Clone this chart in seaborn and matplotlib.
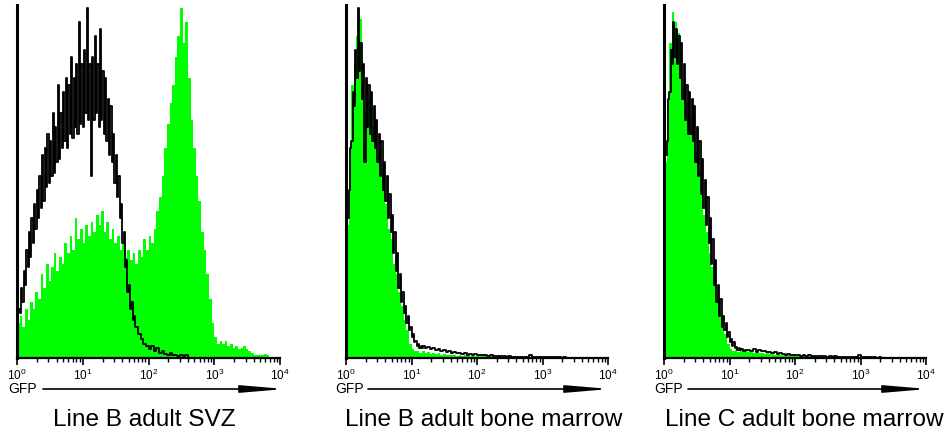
import numpy as np
import pandas as pd
import matplotlib
matplotlib.use("Agg")
import matplotlib.pyplot as plt
import seaborn as sns

# ---------------- data: % of panel max --------------------------------------------------------------
# GFP (green) histograms: 25 channels per decade, 10^0..10^4
n_bins = 100

svz_gfp = [10, 12, 9, 14, 11, 16, 14, 19, 17, 24,
           20, 27, 22, 26, 30, 25, 29, 27, 33, 30,
           35, 31, 40, 34, 37, 33, 38, 35, 39, 36,
           41, 38, 42, 36, 39, 34, 37, 33, 35, 31,
           33, 29, 31, 28, 30, 27, 31, 29, 34, 31,
           35, 33, 37, 42, 46, 52, 60, 67, 73, 78,
           86, 92, 100, 90, 96, 80, 68, 60, 52, 45,
           36, 31, 24, 17, 10, 6, 4, 5, 4, 5,
           3.5, 4, 3, 3.5, 2.5, 3, 3.5, 2.5, 2, 1.5,
           1, 1, 1, 1, 1.2, 0.8, 0.4, 0, 0, 0]

bmB_gfp = [38, 55, 78, 84, 92, 97, 80, 71, 74, 67,
           66, 61, 58, 54, 48, 44, 37, 34, 27, 24,
           19, 15, 11, 8, 4, 2.5, 2, 2, 1.5, 2,
           1.5, 1.8, 1.2, 1.5, 1.2, 1.4, 1, 1.2, 1, 1,
           0.8, 1, 0.7, 0.9, 0.6, 0.8, 0.5, 0.6, 0.5, 0.6,
           0.8, 1, 1.2, 0.6, 1, 0.5, 0.6, 0.4, 0.5, 0.3,
           0.4, 0.3, 0.3, 0.2, 0.3, 0.2, 0, 0, 0, 0,
           0, 0, 0, 0, 0, 0, 0, 0, 0, 0,
           0, 0, 0, 0, 0, 0, 0, 0, 0, 0,
           0, 0, 0, 0, 0, 0, 0, 0, 0, 0]

bmC_gfp = [56, 72, 90, 99, 96, 93, 85, 77, 73, 74,
           69, 64, 59, 53, 48, 41, 36, 30, 26, 21,
           17, 12, 9, 7, 4, 2.5, 2, 2.2, 1.8, 2,
           1.8, 2, 1.6, 1.8, 1.5, 1.6, 1.4, 1.5, 1.2, 1.4,
           1.2, 1.1, 1, 1.2, 0.9, 1, 0.8, 0.9, 0.7, 0.8,
           0.6, 0.7, 0.5, 0.6, 0.5, 0.5, 0.4, 0.5, 0.4, 0.3,
           0.4, 0.3, 0.3, 0.2, 0.3, 0.2, 0.2, 0.2, 0.1, 0.1,
           0, 0, 0, 0, 0, 0, 0, 0, 0, 0,
           0, 0, 0, 0, 0, 0, 0, 0, 0, 0,
           0, 0, 0, 0, 0, 0, 0, 0, 0, 0]

# Control (black outline) histograms: 50 channels/decade at low end, 25 channels/decade above
svz_ctrl_fine = [10, 14, 13, 20, 16, 25, 21, 31, 26, 36,
                 29, 40, 33, 44, 37, 48, 40, 52, 43, 58,
                 45, 60, 49, 64, 50, 62, 52, 70, 53, 66,
                 56, 78, 57, 70, 60, 76, 62, 80, 60, 78,
                 64, 86, 63, 80, 66, 84, 64, 96, 67, 84,
                 66, 88, 70, 100, 68, 84, 52, 86, 68, 92,
                 70, 84, 66, 94, 68, 82, 64, 80, 62, 74,
                 58, 72, 56, 64, 50, 58, 46, 52, 40, 44,
                 33, 36, 26, 28, 19, 21, 14, 16, 11, 12]
svz_ctrl_coarse = [9, 7, 5.5, 4, 3.5, 2.5, 3.5, 2, 3, 1.5,
                   2, 1.2, 1, 1.3, 0.8, 1, 0.7, 1, 0.6, 0.8,
                   0, 0, 0, 0, 0, 0, 0, 0, 0, 0,
                   0, 0, 0, 0, 0, 0, 0, 0, 0, 0,
                   0, 0, 0, 0, 0, 0, 0, 0, 0, 0,
                   0, 0, 0, 0, 0]

bmB_ctrl_fine = [28, 40, 48, 60, 62, 76, 72, 88, 80, 100,
                 82, 90, 74, 84, 56, 80, 66, 78, 64, 76,
                 62, 72, 60, 68, 56, 64, 52, 62, 48, 56,
                 45, 52, 40, 47, 36, 41, 30, 36, 25, 30,
                 20, 24, 16, 19, 13, 15, 10, 12, 8, 9,
                 6, 7, 4.5, 5, 3.5, 4, 3, 3.5, 3, 3.4]
bmB_ctrl_coarse = [2.8, 3.2, 2.5, 3, 2.2, 2.5, 2, 2.2, 1.8, 2,
                   1.5, 1.7, 1.3, 1.5, 1.2, 1.4, 1, 1.2, 1, 1.1,
                   0.9, 1, 0.8, 1, 0.7, 0.9, 0.6, 0.7, 0.5, 0.6,
                   0.5, 0.4, 0.5, 0.4, 0.3, 0.4, 0.3, 0.3, 0.2, 0.4,
                   1.0, 0.3, 0.2, 0.2, 0.3, 0.2, 0.2, 0.3, 0.2, 0.2,
                   0.2, 0.2, 0.1, 0.2, 0.1, 0.1, 0.1, 0.1, 0, 0,
                   0, 0, 0, 0, 0, 0, 0, 0, 0, 0]

bmC_ctrl_fine = [50, 58, 62, 74, 76, 88, 84, 96, 86, 94,
                 84, 92, 80, 90, 74, 84, 68, 78, 64, 76,
                 64, 74, 62, 72, 56, 66, 52, 62, 47, 57,
                 43, 51, 38, 46, 33, 40, 27, 34, 21, 28,
                 16, 21, 12, 17, 9, 12, 8, 10, 6, 7.5,
                 4.5, 5.5, 3.5, 4.5, 2.8, 3.2, 2.4, 2.8, 2.2, 2.6]
bmC_ctrl_coarse = [2, 2.4, 2.2, 2, 2.5, 1.8, 2.2, 1.9, 2, 1.6,
                   1.8, 1.4, 1.6, 1.2, 1.4, 1.2, 1, 1.1, 0.9, 1,
                   0.8, 1, 0.7, 0.9, 0.6, 0.8, 0.6, 0.7, 0.5, 0.6,
                   0.5, 0.6, 0.4, 0.5, 0.4, 0.5, 0.4, 0.3, 0.4, 0.3,
                   0.3, 0.4, 0.3, 0.3, 1, 0.3, 0.2, 0.3, 0.2, 0.2,
                   0.2, 0.1, 0.2, 0.1, 0.1, 0, 0, 0, 0, 0,
                   0, 0, 0, 0, 0, 0, 0, 0, 0, 0]

panel_titles = ["Line B adult SVZ", "Line B adult bone marrow", "Line C adult bone marrow"]
tick_values = [1, 10, 100, 1000, 10000]
tick_labels = [r"$10^{0}$", r"$10^{1}$", r"$10^{2}$", r"$10^{3}$", r"$10^{4}$"]
axis_label = "GFP"

# ---------------- style -------------
sns.set_style("ticks")
plt.rcParams["font.family"] = ["Liberation Sans", "DejaVu Sans"]
plt.rcParams["mathtext.fontset"] = "custom"
plt.rcParams["mathtext.rm"] = "Liberation Sans"
plt.rcParams["mathtext.it"] = "Liberation Sans:italic"
plt.rcParams["mathtext.bf"] = "Liberation Sans:bold"

GREEN = "#00ff00"

# green channel grid (log10 units)
g_edges = np.linspace(0, 4, n_bins + 1)
g_centers = 10 ** ((g_edges[:-1] + g_edges[1:]) / 2)


def ctrl_edges(n_fine, n_coarse):
    fine = np.arange(n_fine + 1) * 0.02
    coarse = fine[-1] + np.arange(1, n_coarse + 1) * 0.04
    return np.concatenate([fine, coarse])


panels = [(svz_gfp, svz_ctrl_fine, svz_ctrl_coarse),
          (bmB_gfp, bmB_ctrl_fine, bmB_ctrl_coarse),
          (bmC_gfp, bmC_ctrl_fine, bmC_ctrl_coarse)]

fig = plt.figure(figsize=(9.51, 4.36), dpi=100)
W, H = 951, 436
boxes = [(17, 280), (346, 608), (664, 926)]
ax_top, ax_bot = 5, 358
gfp_x = [8, 335, 654]
arrow_x = [(43, 285), (368, 610), (688, 928)]
title_cx = [144, 484, 804]

for k, ((gfp, cf, cc), (l, r)) in enumerate(zip(panels, boxes)):
    ax = fig.add_axes([l / W, (H - ax_bot) / H, (r - l) / W, (ax_bot - ax_top) / H])
    df_g = pd.DataFrame({"x": g_centers, "w": gfp})
    sns.histplot(data=df_g, x="x", weights="w", bins=[float(v) for v in g_edges], log_scale=True,
                 element="bars", fill=True, color=GREEN, alpha=1, linewidth=0, ax=ax)
    ce = ctrl_edges(len(cf), len(cc))
    c_centers = 10 ** ((ce[:-1] + ce[1:]) / 2)
    df_c = pd.DataFrame({"x": c_centers, "w": list(cf) + list(cc)})
    sns.histplot(data=df_c, x="x", weights="w", bins=[float(v) for v in ce], log_scale=True,
                 element="step", fill=False, color="black", linewidth=1.3, ax=ax)
    ax.set_xlim(1, 10000)
    ax.set_ylim(0, 101)
    ax.set_xlabel("")
    ax.set_ylabel("")
    ax.set_yticks([])
    for s in ["top", "right"]:
        ax.spines[s].set_visible(False)
    ax.spines["left"].set_linewidth(2.2)
    ax.spines["bottom"].set_linewidth(1.6)
    ax.spines["left"].set_color("black")
    ax.spines["bottom"].set_color("black")
    ax.set_xticks(tick_values, labels=tick_labels)
    ax.tick_params(axis="x", which="major", direction="out", length=5, width=1.2,
                   labelsize=8.5, pad=2, colors="black")
    ax.tick_params(axis="x", which="minor", direction="out", length=3, width=1.0, colors="black")
    ax.set_facecolor("white")

    to_fx = lambda px: (px - l) / (r - l)
    fy = (ax_bot - 389) / (ax_bot - ax_top)
    ax.text(to_fx(gfp_x[k]), fy, axis_label, transform=ax.transAxes, ha="left", va="center",
            fontsize=10, color="black")
    ax.annotate("", xy=(to_fx(arrow_x[k][1]), fy), xytext=(to_fx(arrow_x[k][0]), fy),
                xycoords="axes fraction", textcoords="axes fraction",
                arrowprops=dict(arrowstyle="-|>,head_length=2.6,head_width=0.22",
                                lw=1.2, color="black", shrinkA=0, shrinkB=0))
    ty = (ax_bot - 420) / (ax_bot - ax_top)
    ax.text(to_fx(title_cx[k]), ty, panel_titles[k], transform=ax.transAxes,
            ha="center", va="center", fontsize=17.6, color="black")

fig.savefig("out.png", dpi=100, facecolor="white")
